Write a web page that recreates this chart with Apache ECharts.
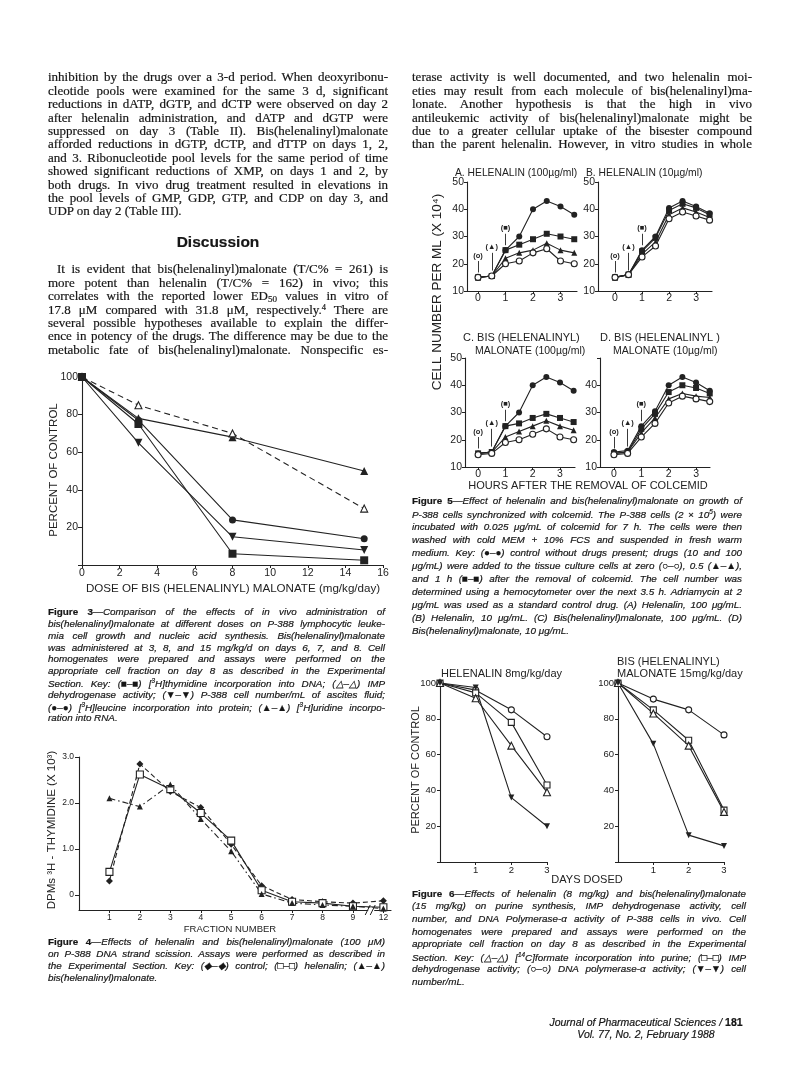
<!DOCTYPE html>
<html><head><meta charset="utf-8">
<script src="https://cdn.jsdelivr.net/npm/echarts@6/dist/echarts.min.js"></script>
<style>
html,body{margin:0;padding:0;background:#fff;}
#page{position:relative;width:799px;height:1080px;overflow:hidden;background:#fff;}
#chart{position:absolute;left:0;top:0;width:799px;height:1080px;}
#text{position:absolute;left:0;top:0;width:799px;height:1080px;pointer-events:none;}
#text div{-webkit-text-stroke:0.2px #161616;}
.sub{font-size:70%;vertical-align:-2px;}
.sup{font-size:65%;vertical-align:4px;}
</style></head><body>
<div id="page"><div id="chart"></div><div id="text"></div></div>
<script>
// ---------------- DATA ----------------
// Figure 3
const FIG3_DOSE = [0, 3, 8, 15];
const FIG3_THYMIDINE = [100, 75, 6, 2.5];
const FIG3_IMP = [100, 85, 70, 30];
const FIG3_CELLS = [100, 65, 15, 8];
const FIG3_LEUCINE = [100, 77, 24, 14];
const FIG3_URIDINE = [100, 78, 68, 50];
// Figure 4
const FIG4_FRACTIONS = [1, 2, 3, 4, 5, 6, 7, 8, 9, 10];
const FIG4_TICK_LABELS = ['1', '2', '3', '4', '5', '6', '7', '8', '9', '12'];
const FIG4_CONTROL = [0.3, 2.85, 2.25, 1.9, 1.1, 0.2, -0.1, -0.15, -0.18, -0.13];
const FIG4_HELENALIN = [0.5, 2.62, 2.3, 1.78, 1.18, 0.1, -0.15, -0.18, -0.25, -0.27];
const FIG4_BIS = [2.1, 1.92, 2.4, 1.65, 0.95, 0.02, -0.18, -0.22, -0.25, -0.3];
const FIG4_Y_TICKS = [0, 1, 2, 3];
const FIG4_BREAK_X = 9.6;
// Figure 5 (hours after removal of colcemid)
const FIG5_HOURS = [0, 0.5, 1, 1.5, 2, 2.5, 3, 3.5];
const FIG5_X_TICKS = [0, 1, 2, 3];
const FIG5A_CONTROL = [15, 15.5, 25, 30, 40, 43, 41, 38];
const FIG5A_1H = [15, 15.5, 25, 27, 29, 31, 30, 29];
const FIG5A_05H = [15, 15.5, 22, 24, 25, 27.5, 25, 24];
const FIG5A_0H = [15, 15.5, 20, 21, 24, 25.5, 21, 20];
const FIG5B_CONTROL = [15, 16, 25, 30, 40.5, 43, 41, 38.5];
const FIG5B_1H = [15, 16, 24.5, 29.5, 39.5, 42, 40.5, 38];
const FIG5B_05H = [15, 16, 23.5, 28, 38, 40.5, 39, 37];
const FIG5B_0H = [15, 16, 22.5, 26.5, 36.5, 39, 37.5, 36];
const FIG5C_CONTROL = [15, 15.5, 25, 30, 40, 43, 41, 38];
const FIG5C_1H = [15, 15.5, 25, 26, 28, 29.5, 28, 26.5];
const FIG5C_05H = [15, 15.5, 21, 23, 25, 27, 25, 23.5];
const FIG5C_0H = [14.5, 15, 19, 20, 22, 24, 21, 20];
const FIG5D_CONTROL = [15.5, 16, 25, 30.5, 40, 43, 41, 38];
const FIG5D_1H = [15, 15.5, 24, 29.5, 37.5, 40, 39, 37];
const FIG5D_05H = [15, 15.5, 22.5, 28, 35, 37, 36, 35.5];
const FIG5D_0H = [14.5, 15, 21, 26, 33.5, 36, 35, 34];
// arrows: [label, hour, text level, arrow start, arrow end]
const FIG5_MARKERS = [['(o)', 0, 23, 21, 16.8], ['(▲)', 0.5, 26, 24, 17.5], ['(■)', 1, 33, 31, 26.8]];
// Figure 6
const FIG6_DAYS = [0, 1, 2, 3];
const FIG6_X_TICKS = [1, 2, 3];
const FIG6H_DNAPOL = [100, 96, 85, 70];
const FIG6H_IMP = [100, 94.5, 78, 43];
const FIG6H_FORMATE = [100, 91.5, 65, 39];
const FIG6H_CELLS = [100, 97.5, 36, 20];
const FIG6B_DNAPOL = [100, 91, 85, 71];
const FIG6B_IMP = [100, 85, 68, 29];
const FIG6B_FORMATE = [100, 83, 65, 28];
const FIG6B_CELLS = [100, 66, 15, 9];

// ---------------- TEXT ----------------
const LEFT_PARA1 = [
 'inhibition by the drugs over a 3-d period. When deoxyribonu-',
 'cleotide pools were examined for the same 3 d, significant',
 'reductions in dATP, dGTP, and dCTP were observed on day 2',
 'after helenalin administration, and dATP and dGTP were',
 'suppressed on day 3 (Table II). Bis(helenalinyl)malonate',
 'afforded reductions in dGTP, dCTP, and dTTP on days 1, 2,',
 'and 3. Ribonucleotide pool levels for the same period of time',
 'showed significant reductions of XMP, on days 1 and 2, by',
 'both drugs. In vivo drug treatment resulted in elevations in',
 'the pool levels of GMP, GDP, GTP, and CDP on day 3, and',
 'UDP on day 2 (Table III).'
];
const LEFT_PARA2 = [
 'It is evident that bis(helenalinyl)malonate (T/C% = 261) is',
 'more potent than helenalin (T/C% = 162) in vivo; this',
 'correlates with the reported lower ED<span class="sub">50</span> values in vitro of',
 '17.8 μM compared with 31.8 μM, respectively.<span class="sup">4</span> There are',
 'several possible hypotheses available to explain the differ-',
 'ence in potency of the drugs. The difference may be due to the',
 'metabolic fate of bis(helenalinyl)malonate. Nonspecific es-'
];
const RIGHT_PARA = [
 'terase activity is well documented, and two helenalin moi-',
 'eties may result from each molecule of bis(helenalinyl)ma-',
 'lonate. Another hypothesis is that the high in vivo',
 'antileukemic activity of bis(helenalinyl)malonate might be',
 'due to a greater cellular uptake of the bisester compound',
 'than the parent helenalin. However, in vitro studies in whole'
];
const FIG3_CAPTION = [
 '<b style="font-style:normal">Figure 3</b>—Comparison of the effects of in vivo administration of',
 'bis(helenalinyl)malonate at different doses on P-388 lymphocytic leuke-',
 'mia cell growth and nucleic acid synthesis. Bis(helenalinyl)malonate',
 'was administered at 3, 8, and 15 mg/kg/d on days 6, 7, and 8. Cell',
 'homogenates were prepared and assays were performed on the',
 'appropriate cell fraction on day 8 as described in the Experimental',
 'Section. Key: (■–■) [<span class="sup">3</span>H]thymidine incorporation into DNA; (△–△) IMP',
 'dehydrogenase activity; (▼–▼) P-388 cell number/mL of ascites fluid;',
 '(●–●) [<span class="sup">3</span>H]leucine incorporation into protein; (▲–▲) [<span class="sup">3</span>H]uridine incorpo-',
 'ration into RNA.'
];
const FIG4_CAPTION = [
 '<b style="font-style:normal">Figure 4</b>—Effects of helenalin and bis(helenalinyl)malonate (100 μM)',
 'on P-388 DNA strand scission. Assays were performed as described in',
 'the Experimental Section. Key: (◆–◆) control; (□–□) helenalin; (▲–▲)',
 'bis(helenalinyl)malonate.'
];
const FIG5_CAPTION = [
 '<b style="font-style:normal">Figure 5</b>—Effect of helenalin and bis(helenalinyl)malonate on growth of',
 'P-388 cells synchronized with colcemid. The P-388 cells (2 × 10<span class="sup">5</span>) were',
 'incubated with 0.025 μg/mL of colcemid for 7 h. The cells were then',
 'washed with cold MEM + 10% FCS and suspended in fresh warm',
 'medium. Key: (●–●) control without drugs present; drugs (10 and 100',
 'μg/mL) were added to the tissue culture cells at zero (○–○), 0.5 (▲–▲),',
 'and 1 h (■–■) after the removal of colcemid. The cell number was',
 'determined using a hemocytometer over the next 3.5 h. Adriamycin at 2',
 'μg/mL was used as a standard control drug. (A) Helenalin, 100 μg/mL.',
 '(B) Helenalin, 10 μg/mL. (C) Bis(helenalinyl)malonate, 100 μg/mL. (D)',
 'Bis(helenalinyl)malonate, 10 μg/mL.'
];
const FIG6_CAPTION = [
 '<b style="font-style:normal">Figure 6</b>—Effects of helenalin (8 mg/kg) and bis(helenalinyl)malonate',
 '(15 mg/kg) on purine synthesis, IMP dehydrogenase activity, cell',
 'number, and DNA Polymerase-α activity of P-388 cells in vivo. Cell',
 'homogenates were prepared and assays were performed on the',
 'appropriate cell fraction on day 8 as described in the Experimental',
 'Section. Key: (△–△) [<span class="sup">14</span>C]formate incorporation into purine; (□–□) IMP',
 'dehydrogenase activity; (○–○) DNA polymerase-α activity; (▼–▼) cell',
 'number/mL.'
];

// ---------------- TEXT LAYOUT ----------------
const TXT = document.getElementById('text');
function placeLine(html, x, yc, w, font, lh, justify, color) {
  const d = document.createElement('div');
  d.style.cssText = 'position:absolute;white-space:nowrap;left:' + x + 'px;top:' + (yc - lh / 2) +
    'px;line-height:' + lh + 'px;font:' + font + ';color:' + (color || '#161616') + ';';
  d.innerHTML = html;
  TXT.appendChild(d);
  const nat = d.getBoundingClientRect().width;
  if (nat > w) {
    d.style.transformOrigin = 'left center';
    d.style.transform = 'scaleX(' + (w / nat) + ')';
  } else if (justify) {
    const spaces = (d.textContent.match(/ /g) || []).length;
    if (spaces) d.style.wordSpacing = ((w - nat) / spaces) + 'px';
  }
}
function placePara(lines, x, y0, step, w, font, lastJustify, indent) {
  lines.forEach((ln, i) => {
    const ind = (i === 0 && indent) ? indent : 0;
    const just = i < lines.length - 1 || lastJustify;
    placeLine(ln, x + ind, y0 + i * step, w - ind, font, step, just);
  });
}
const SERIF = '13px "Liberation Serif", "Times New Roman", serif';
const CAP = 'italic 9.9px "Liberation Sans", Arial, sans-serif';
placePara(LEFT_PARA1, 48, 76, 13.4, 340, SERIF, false, 0);
placePara(LEFT_PARA2, 48, 268, 13.4, 340, SERIF, true, 9);
placePara(RIGHT_PARA, 412, 76, 13.4, 340, SERIF, true, 0);
(function () {
  const d = document.createElement('div');
  d.style.cssText = 'position:absolute;left:48px;width:340px;text-align:center;top:233px;line-height:20px;font:bold 15.5px "Liberation Sans", Arial, sans-serif;color:#161616;';
  d.textContent = 'Discussion';
  TXT.appendChild(d);
})();
placePara(FIG3_CAPTION, 48, 612, 11.8, 337, CAP, false, 0);
placePara(FIG4_CAPTION, 48, 942, 12, 337, CAP, false, 0);
placePara(FIG5_CAPTION, 412, 501, 13, 330, CAP, false, 0);
placePara(FIG6_CAPTION, 412, 894, 12.6, 334, CAP, false, 0);
(function () {
  const f = document.createElement('div');
  f.style.cssText = 'position:absolute;left:546px;width:200px;text-align:center;top:1016px;line-height:12.5px;font:italic 10.5px "Liberation Sans", Arial, sans-serif;color:#161616;';
  f.innerHTML = 'Journal of Pharmaceutical Sciences / <b style="font-style:normal">181</b><br>Vol. 77, No. 2, February 1988';
  TXT.appendChild(f);
})();

// ---------------- CHART ----------------
const INK = '#222';
const SANS = '"Liberation Sans", Arial, sans-serif';
function pairs(xs, ys) { return xs.map((x, i) => [x, ys[i]]); }
function lineSeries(g, xs, ys, s) {
  return {
    type: 'line', xAxisIndex: g, yAxisIndex: g, data: pairs(xs, ys),
    symbol: s.symbol, symbolSize: s.size, symbolRotate: s.rotate || 0,
    showAllSymbol: true, clip: false, silent: true,
    itemStyle: { color: s.filled ? INK : '#fff', borderColor: INK, borderWidth: s.filled ? 0 : 1.1 },
    lineStyle: { color: INK, width: 1.1, type: s.dash || 'solid' },
    emphasis: { disabled: true }, z: s.z || 3
  };
}
function axis(g, o) {
  const a = {
    type: 'value', gridIndex: g, min: o.min, max: o.max,
    axisLine: { show: true, onZero: false, lineStyle: { color: INK, width: 1.1 } },
    axisTick: { show: true, inside: false, length: o.tick || 3, lineStyle: { color: INK, width: 1 } },
    splitLine: { show: false },
    axisLabel: { color: INK, fontFamily: SANS, fontSize: o.fs || 10, margin: o.margin || 3 }
  };
  if (o.interval) a.interval = o.interval;
  if (o.custom) { a.axisLabel.customValues = o.custom; a.axisTick.customValues = o.custom; }
  if (o.fmt) a.axisLabel.formatter = o.fmt;
  return a;
}
const hide0 = v => (v === 0 ? '' : String(v));
const grids = [
  { left: 82, top: 377, width: 301, height: 188 },
  { left: 79, top: 757, width: 312, height: 153 },
  { left: 467, top: 182, width: 110, height: 109 },
  { left: 598, top: 182, width: 114, height: 109 },
  { left: 465, top: 358, width: 110, height: 109 },
  { left: 600, top: 358, width: 110, height: 109 },
  { left: 440, top: 683, width: 107, height: 179 },
  { left: 618, top: 683, width: 106, height: 179 }
].map(g => Object.assign({ outerBoundsMode: 'none', containLabel: false }, g));

const xAxes = [
  axis(0, { min: 0, max: 16, interval: 2, fs: 10.5, margin: 3 }),
  axis(1, { min: 0, max: 10.25, custom: FIG4_FRACTIONS, fs: 8.5, margin: 3,
    fmt: v => FIG4_TICK_LABELS[FIG4_FRACTIONS.indexOf(v)] || '' }),
  axis(2, { min: -0.4, max: 3.6, custom: FIG5_X_TICKS, fs: 10.5, margin: 2 }),
  axis(3, { min: -0.63, max: 3.59, custom: FIG5_X_TICKS, fs: 10.5, margin: 2 }),
  axis(4, { min: -0.48, max: 3.55, custom: FIG5_X_TICKS, fs: 10.5, margin: 2 }),
  axis(5, { min: -0.51, max: 3.51, custom: FIG5_X_TICKS, fs: 10.5, margin: 2 }),
  axis(6, { min: 0, max: 3, custom: FIG6_X_TICKS, fs: 9.5, margin: 3 }),
  axis(7, { min: 0, max: 3, custom: FIG6_X_TICKS, fs: 9.5, margin: 3 })
];
const yAxes = [
  axis(0, { min: 0, max: 100, interval: 20, fs: 10.5, margin: 4, tick: 4, fmt: hide0 }),
  axis(1, { min: -0.33, max: 3, custom: FIG4_Y_TICKS, fs: 8.5, margin: 5, tick: 4,
    fmt: v => (v === 0 ? '0' : v.toFixed(1)) }),
  axis(2, { min: 10, max: 50, interval: 10, fs: 10.5, margin: 3 }),
  axis(3, { min: 10, max: 50, interval: 10, fs: 10.5, margin: 3 }),
  axis(4, { min: 10, max: 50, interval: 10, fs: 10.5, margin: 3 }),
  axis(5, { min: 10, max: 50, interval: 10, fs: 10.5, margin: 3, fmt: v => (v === 50 ? '' : String(v)) }),
  axis(6, { min: 0, max: 100, interval: 20, fs: 9.5, margin: 4, fmt: hide0 }),
  axis(7, { min: 0, max: 100, interval: 20, fs: 9.5, margin: 4, fmt: hide0 })
];

const SYM = {
  fCircle: { symbol: 'circle', size: 6, filled: true },
  oCircle: { symbol: 'circle', size: 6, filled: false },
  fRect: { symbol: 'rect', size: 6, filled: true },
  oRect: { symbol: 'rect', size: 6, filled: false },
  fTri: { symbol: 'triangle', size: 6, filled: true },
  oTri: { symbol: 'triangle', size: 7, filled: false },
  fDown: { symbol: 'triangle', size: 6, filled: true, rotate: 180 }
};
function S(base, extra) { return Object.assign({}, base, extra || {}); }

const series = [];
// Figure 3
series.push(lineSeries(0, FIG3_DOSE, FIG3_URIDINE, S(SYM.fTri, { size: 8 })));
series.push(lineSeries(0, FIG3_DOSE, FIG3_IMP, S(SYM.oTri, { size: 7, dash: [6, 4] })));
series.push(lineSeries(0, FIG3_DOSE, FIG3_LEUCINE, S(SYM.fCircle, { size: 7 })));
series.push(lineSeries(0, FIG3_DOSE, FIG3_CELLS, S(SYM.fDown, { size: 8 })));
series.push(lineSeries(0, FIG3_DOSE, FIG3_THYMIDINE, S(SYM.fRect, { size: 8 })));
// Figure 4
series.push(lineSeries(1, FIG4_FRACTIONS, FIG4_CONTROL, { symbol: 'diamond', size: 7, filled: true, dash: [5, 3] }));
series.push(lineSeries(1, FIG4_FRACTIONS, FIG4_HELENALIN, S(SYM.oRect, { size: 7 })));
series.push(lineSeries(1, FIG4_FRACTIONS, FIG4_BIS, S(SYM.fTri, { size: 6, dash: [6, 3, 1.5, 3] })));
series.push({
  type: 'custom', xAxisIndex: 1, yAxisIndex: 1, data: [[FIG4_BREAK_X, -0.33]], silent: true, z: 5,
  renderItem: function (params, api) {
    const p = api.coord([api.value(0), api.value(1)]);
    return {
      type: 'group', children: [
        { type: 'rect', shape: { x: p[0] - 3, y: p[1] - 2, width: 6, height: 4 }, style: { fill: '#fff' } },
        { type: 'line', shape: { x1: p[0] - 6, y1: p[1] + 5, x2: p[0] - 1, y2: p[1] - 5 }, style: { stroke: INK, lineWidth: 1 } },
        { type: 'line', shape: { x1: p[0] - 1, y1: p[1] + 5, x2: p[0] + 4, y2: p[1] - 5 }, style: { stroke: INK, lineWidth: 1 } }
      ]
    };
  }
});
// Figure 5
const FIG5_PANELS = [
  [2, FIG5A_CONTROL, FIG5A_1H, FIG5A_05H, FIG5A_0H],
  [3, FIG5B_CONTROL, FIG5B_1H, FIG5B_05H, FIG5B_0H],
  [4, FIG5C_CONTROL, FIG5C_1H, FIG5C_05H, FIG5C_0H],
  [5, FIG5D_CONTROL, FIG5D_1H, FIG5D_05H, FIG5D_0H]
];
FIG5_PANELS.forEach(p => {
  const g = p[0];
  series.push(lineSeries(g, FIG5_HOURS, p[1], SYM.fCircle));
  series.push(lineSeries(g, FIG5_HOURS, p[2], SYM.fRect));
  series.push(lineSeries(g, FIG5_HOURS, p[3], SYM.fTri));
  series.push(lineSeries(g, FIG5_HOURS, p[4], S(SYM.oCircle, { z: 4 })));
  series.push({
    type: 'scatter', xAxisIndex: g, yAxisIndex: g, silent: true, symbolSize: 1,
    itemStyle: { color: 'rgba(0,0,0,0)' },
    data: FIG5_MARKERS.map(m => [m[1], m[2], m[0]]),
    label: { show: true, position: 'inside', formatter: q => q.value[2], fontSize: 7.5,
      fontFamily: SANS, color: INK, fontWeight: 'bold', opacity: 1 },
    labelLayout: { hideOverlap: false },
    markLine: {
      silent: true, symbol: ['none', 'arrow'], symbolSize: [0, 5], animation: false,
      lineStyle: { color: INK, width: 0.9, type: 'solid' }, label: { show: false },
      data: FIG5_MARKERS.map(m => [{ coord: [m[1], m[3]] }, { coord: [m[1], m[4]] }])
    }
  });
});
// Figure 6
[[6, FIG6H_DNAPOL, FIG6H_IMP, FIG6H_FORMATE, FIG6H_CELLS],
 [7, FIG6B_DNAPOL, FIG6B_IMP, FIG6B_FORMATE, FIG6B_CELLS]].forEach(p => {
  const g = p[0];
  series.push(lineSeries(g, FIG6_DAYS, p[1], S(SYM.oCircle, { size: 6 })));
  series.push(lineSeries(g, FIG6_DAYS, p[2], S(SYM.oRect, { size: 6 })));
  series.push(lineSeries(g, FIG6_DAYS, p[3], S(SYM.oTri, { size: 7 })));
  series.push(lineSeries(g, FIG6_DAYS, p[4], S(SYM.fDown, { size: 6 })));
});

function T(text, x, y, o) {
  o = o || {};
  return {
    type: 'text', x: x, y: y, rotation: o.rot || 0, silent: true, z: 10,
    style: {
      text: text, fill: INK, font: (o.weight || 'normal') + ' ' + (o.fs || 11) + 'px ' + SANS,
      textAlign: o.align || 'left', textVerticalAlign: 'middle'
    }
  };
}
const graphics = [
  // Figure 3
  T('PERCENT OF CONTROL', 54, 470, { rot: Math.PI / 2, align: 'center', fs: 11.5 }),
  T('DOSE OF BIS (HELENALINYL) MALONATE (mg/kg/day)', 233, 589, { align: 'center', fs: 11.6 }),
  // Figure 4
  T('DPMs ³H - THYMIDINE (X 10³)', 52, 830, { rot: Math.PI / 2, align: 'center', fs: 11.5 }),
  T('FRACTION NUMBER', 230, 929, { align: 'center', fs: 9.5 }),
  // Figure 5
  T('A. HELENALIN (100µg/ml)', 455, 173, { fs: 10.3 }),
  T('B. HELENALIN (10µg/ml)', 586, 173, { fs: 10.3 }),
  T('C. BIS (HELENALINYL)', 463, 338, { fs: 11 }),
  T('MALONATE (100µg/ml)', 475, 351, { fs: 10.5 }),
  T('D. BIS (HELENALINYL )', 600, 338, { fs: 11 }),
  T('MALONATE (10µg/ml)', 613, 351, { fs: 10.5 }),
  T('CELL NUMBER PER ML (X 10⁴)', 437, 292, { rot: Math.PI / 2, align: 'center', fs: 13.5 }),
  T('HOURS AFTER THE REMOVAL OF COLCEMID', 588, 486, { align: 'center', fs: 11 }),
  // Figure 6
  T('HELENALIN 8mg/kg/day', 441, 674, { fs: 11 }),
  T('BIS (HELENALINYL)', 617, 662, { fs: 11 }),
  T('MALONATE 15mg/kg/day', 617, 674, { fs: 11 }),
  T('PERCENT OF CONTROL', 416, 770, { rot: Math.PI / 2, align: 'center', fs: 11 }),
  T('DAYS DOSED', 587, 880, { align: 'center', fs: 11 })
];

const chart = echarts.init(document.getElementById('chart'), null, { renderer: 'canvas', width: 799, height: 1080 });
chart.setOption({
  backgroundColor: '#fff',
  animation: false,
  grid: grids,
  xAxis: xAxes,
  yAxis: yAxes,
  series: series,
  graphic: graphics
});
</script></body></html>
